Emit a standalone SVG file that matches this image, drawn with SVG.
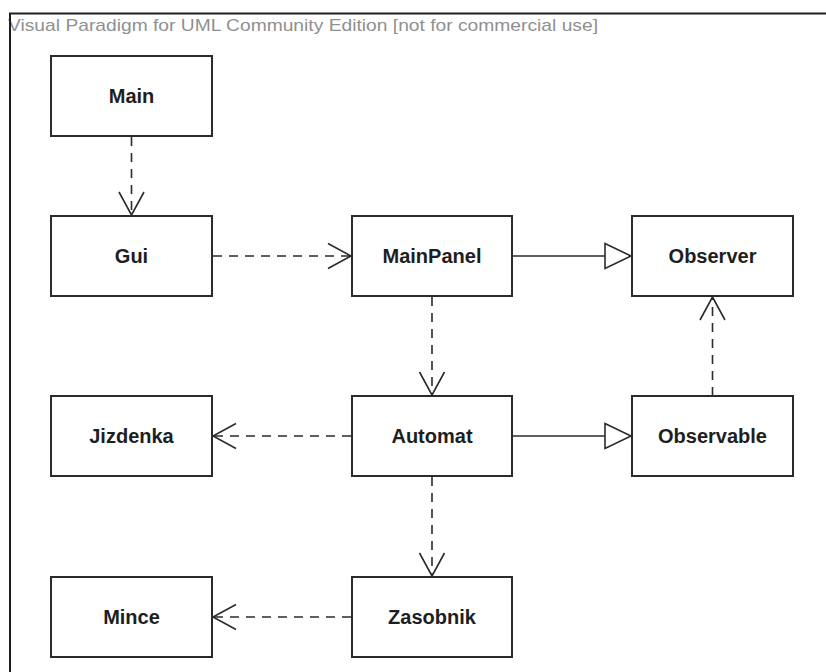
<svg xmlns="http://www.w3.org/2000/svg" width="826" height="672" viewBox="0 0 826 672">
  <style>
    .box { fill: #ffffff; stroke: #2b2b2b; stroke-width: 2; }
    .lbl { font-family: "Liberation Sans", Arial, sans-serif; font-size: 20px; font-weight: bold; fill: #1e1e1e; text-anchor: middle; }
    .title { font-family: "Liberation Sans", Arial, sans-serif; font-size: 17px; fill: #909090; }
    .dep { fill: none; stroke: #2b2b2b; stroke-width: 1.6; stroke-dasharray: 9 7; marker-end: url(#open); }
    .gen { fill: none; stroke: #2b2b2b; stroke-width: 1.6; marker-end: url(#tri); }
  </style>
  <defs>
    <marker id="open" markerUnits="userSpaceOnUse" markerWidth="30" markerHeight="30" viewBox="-25 -15 30 30" refX="0" refY="0" orient="auto">
      <path d="M-23,-12.5 L0,0 L-23,12.5" fill="none" stroke="#2b2b2b" stroke-width="1.6"/>
    </marker>
    <marker id="tri" markerUnits="userSpaceOnUse" markerWidth="32" markerHeight="32" viewBox="-28 -16 32 32" refX="0" refY="0" orient="auto">
      <path d="M-26,-12.5 L0,0 L-26,12.5 Z" fill="#ffffff" stroke="#2b2b2b" stroke-width="1.6"/>
    </marker>
  </defs>

  <rect x="0" y="0" width="826" height="672" fill="#ffffff"/>

  <!-- diagram frame and edition banner -->
  <g id="frame">
    <text class="title" x="8" y="31" textLength="590" lengthAdjust="spacingAndGlyphs">Visual Paradigm for UML Community Edition [not for commercial use]</text>
    <path d="M10,672 L10,13.5 L826,13.5" fill="none" stroke="#1e1e1e" stroke-width="2"/>
  </g>

  <!-- connectors -->
  <g id="connectors">
    <path class="dep" d="M131.5,137 L131.5,215"/>
    <path class="dep" d="M213,256 L351,256"/>
    <path class="gen" d="M513,256 L631,256"/>
    <path class="dep" d="M432,297 L432,395"/>
    <path class="dep" d="M712.5,396 L712.5,297"/>
    <path class="dep" d="M351,436 L213,436"/>
    <path class="gen" d="M513,436 L631,436"/>
    <path class="dep" d="M432,477 L432,576"/>
    <path class="dep" d="M351,617 L213,617"/>
  </g>

  <!-- classes -->
  <g id="Main">
    <rect class="box" x="51" y="56" width="161" height="80"/>
    <text class="lbl" x="131.5" y="103">Main</text>
  </g>
  <g id="Gui">
    <rect class="box" x="51" y="216" width="161" height="80"/>
    <text class="lbl" x="131.5" y="263">Gui</text>
  </g>
  <g id="MainPanel">
    <rect class="box" x="352" y="216" width="160" height="80"/>
    <text class="lbl" x="432" y="263">MainPanel</text>
  </g>
  <g id="Observer">
    <rect class="box" x="632" y="216" width="161" height="80"/>
    <text class="lbl" x="712.5" y="263">Observer</text>
  </g>
  <g id="Jizdenka">
    <rect class="box" x="51" y="396" width="161" height="80"/>
    <text class="lbl" x="131.5" y="443">Jizdenka</text>
  </g>
  <g id="Automat">
    <rect class="box" x="352" y="396" width="160" height="80"/>
    <text class="lbl" x="432" y="443">Automat</text>
  </g>
  <g id="Observable">
    <rect class="box" x="632" y="396" width="161" height="80"/>
    <text class="lbl" x="712.5" y="443">Observable</text>
  </g>
  <g id="Mince">
    <rect class="box" x="51" y="577" width="161" height="80"/>
    <text class="lbl" x="131.5" y="624">Mince</text>
  </g>
  <g id="Zasobnik">
    <rect class="box" x="352" y="577" width="160" height="80"/>
    <text class="lbl" x="432" y="624">Zasobnik</text>
  </g>
</svg>
